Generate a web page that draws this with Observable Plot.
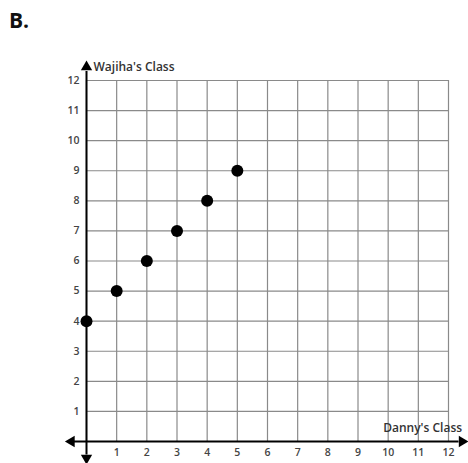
<!DOCTYPE html>
<html><head><meta charset="utf-8">
<script src="https://cdn.jsdelivr.net/npm/d3@7"></script>
<script src="https://cdn.jsdelivr.net/npm/@observablehq/plot@0.6"></script>
<style>
body{margin:0;background:#fff;font-family:"Open Sans",sans-serif;}
#wrap{position:relative;width:468px;height:463px;}
#title{position:absolute;left:9px;top:6px;font:bold 21px "Open Sans",sans-serif;color:#111;z-index:2;}
</style></head>
<body><div id="wrap"><div id="title">B.</div></div>
<script>
const dannyClass = [0, 1, 2, 3, 4, 5];
const wajihaClass = [4, 5, 6, 7, 8, 9];
const tickValues = [1,2,3,4,5,6,7,8,9,10,11,12];
const gridValues = [0,1,2,3,4,5,6,7,8,9,10,11,12];
const xTitle = "Danny's Class";
const yTitle = "Wajiha's Class";

const points = dannyClass.map((d,i)=>({x:d,y:wajihaClass[i]}));
const arrows = [
  {x:0,y:12.45,r:0},{x:0,y:-0.55,r:180},{x:-0.5,y:0,r:-90},{x:12.45,y:0,r:90}
];
const chart = Plot.plot({
  width:468, height:463,
  marginLeft:86, marginRight:20, marginTop:80, marginBottom:22,
  x:{domain:[0,12], axis:null}, y:{domain:[0,12], axis:null},
  style:{fontFamily:"Open Sans, sans-serif", background:"transparent"},
  marks:[
    Plot.ruleX(gridValues,{stroke:"#8a8a8a",strokeWidth:1.2}),
    Plot.ruleY(gridValues,{stroke:"#8a8a8a",strokeWidth:1.2}),
    Plot.ruleX([0],{y1:-0.45,y2:12.3,stroke:"#000",strokeWidth:2}),
    Plot.ruleY([0],{x1:-0.4,x2:12.35,stroke:"#000",strokeWidth:2}),
    Plot.dot(arrows,{x:"x",y:"y",rotate:"r",symbol:"triangle",r:4.2,fill:"#000",stroke:"none"}),
    Plot.text(tickValues,{x:d=>d,y:0,dy:11,text:d=>String(d),fontSize:10.5,fontWeight:600,fill:"#444"}),
    Plot.text(tickValues,{x:0,y:d=>d,dx:-7,text:d=>String(d),textAnchor:"end",fontSize:10.5,fontWeight:600,fill:"#444"}),
    Plot.text([yTitle],{x:0,y:12.45,dx:7,text:d=>d,textAnchor:"start",fontSize:12,fontWeight:600,fill:"#333"}),
    Plot.text([xTitle],{x:12.45,y:0,dy:-13,text:d=>d,textAnchor:"end",fontSize:12,fontWeight:600,fill:"#333"}),
    Plot.dot(points,{x:"x",y:"y",r:6,fill:"#000",stroke:"none"})
  ]
});
chart.style.position="absolute";chart.style.left="0";chart.style.top="0";
document.getElementById("wrap").prepend(chart);
</script></body></html>
